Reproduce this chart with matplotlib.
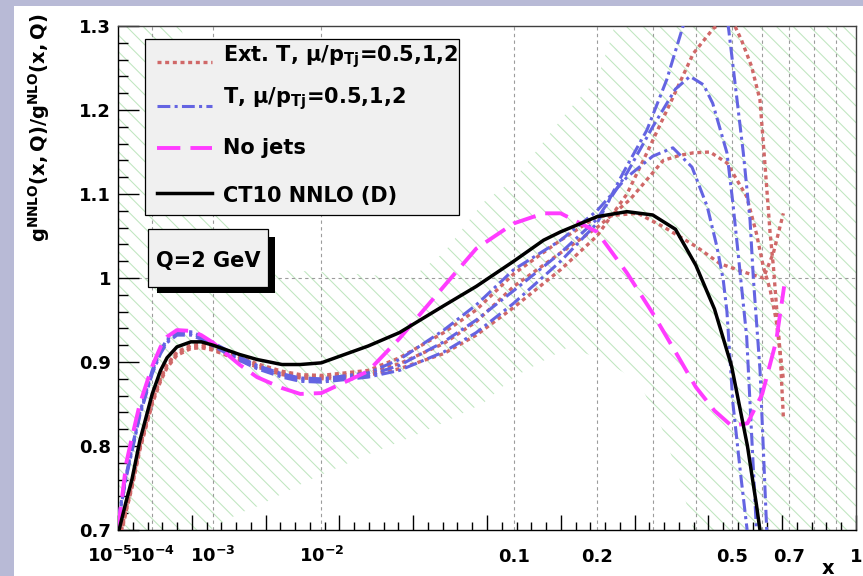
import numpy as np
import matplotlib
matplotlib.use("Agg")
import matplotlib.pyplot as plt
from matplotlib.patches import Rectangle
from matplotlib.lines import Line2D
from matplotlib.transforms import blended_transform_factory, offset_copy

plt.rcParams["font.family"] = ["DejaVu Sans"]
plt.rcParams["font.weight"] = "bold"
plt.rcParams["mathtext.fontset"] = "dejavusans"
plt.rcParams["hatch.linewidth"] = 0.75

# ---------------------------------------------------------------- data
X_LOW = [1e-5, 2e-5, 3e-5, 5e-5, 1e-4, 1.5e-4, 2e-4, 3e-4, 5e-4, 7e-4, 1e-3,
         2e-3, 3e-3, 5e-3, 7e-3, 1e-2, 2e-2, 3e-2, 5e-2, 7e-2, 0.1]

# CT10 NNLO (D)
CT10_X = X_LOW + [0.13, 0.15, 0.2, 0.25, 0.3, 0.35, 0.4, 0.45, 0.5, 0.55, 0.58, 0.6]
CT10_Y = [0.695, 0.735, 0.76, 0.806, 0.862, 0.89, 0.905, 0.918, 0.924, 0.924, 0.92,
          0.909, 0.903, 0.897, 0.897, 0.899, 0.919, 0.935, 0.967, 0.99, 1.02,
          1.045, 1.055, 1.073, 1.079, 1.075, 1.058, 1.015, 0.963, 0.895, 0.80, 0.73, 0.68]

# No jets
NOJET_X = X_LOW + [0.13, 0.15, 0.2, 0.25, 0.3, 0.35, 0.4, 0.45, 0.5, 0.55, 0.6, 0.65, 0.68]
NOJET_Y = [0.70, 0.78, 0.81, 0.85, 0.895, 0.918, 0.93, 0.938, 0.937, 0.932, 0.923,
           0.897, 0.882, 0.869, 0.862, 0.863, 0.889, 0.928, 0.99, 1.035, 1.065,
           1.077, 1.077, 1.055, 1.006, 0.958, 0.912, 0.87, 0.842, 0.824, 0.827,
           0.862, 0.925, 0.99]

# T, mu/pTj = 0.5, 1, 2
T_A_X = X_LOW + [0.15, 0.2, 0.243, 0.288, 0.33, 0.368, 0.4, 0.43, 0.46, 0.49,
                 0.5366, 0.5585, 0.5695, 0.5923, 0.6157]
T_A_Y = [0.708, 0.763, 0.793, 0.836, 0.886, 0.91, 0.923, 0.932, 0.932, 0.927, 0.919,
         0.902, 0.892, 0.882, 0.877, 0.876, 0.882, 0.89, 0.912, 0.935, 0.97,
         1.02, 1.065, 1.125, 1.176, 1.236, 1.30, 1.34, 1.36, 1.35, 1.30,
         1.149, 1.069, 1.0, 0.89, 0.70]
T_B_X = X_LOW + [0.15, 0.2, 0.25, 0.3, 0.35, 0.385, 0.42, 0.445, 0.486, 0.504,
                 0.52, 0.5475, 0.58]
T_B_Y = [0.71, 0.765, 0.795, 0.838, 0.888, 0.912, 0.925, 0.934, 0.934, 0.929, 0.921,
         0.904, 0.894, 0.884, 0.879, 0.878, 0.884, 0.896, 0.924, 0.95, 0.985,
         1.03, 1.07, 1.125, 1.18, 1.225, 1.24, 1.23, 1.208, 1.149, 1.089,
         1.03, 0.93, 0.70]
T_C_X = X_LOW + [0.15, 0.2, 0.25, 0.3, 0.344, 0.39, 0.43, 0.457, 0.475, 0.486,
                 0.504, 0.527, 0.549]
T_C_Y = [0.712, 0.767, 0.797, 0.84, 0.89, 0.914, 0.927, 0.936, 0.936, 0.931, 0.923,
         0.906, 0.896, 0.886, 0.881, 0.88, 0.887, 0.903, 0.938, 0.968, 1.01,
         1.045, 1.08, 1.12, 1.145, 1.155, 1.132, 1.085, 1.037, 0.998, 0.96,
         0.851, 0.77, 0.70]

# Ext. T, mu/pTj = 0.5, 1, 2
EXT_A_X = X_LOW + [0.15, 0.2, 0.25, 0.288, 0.345, 0.393, 0.4466, 0.475, 0.49, 0.504,
                   0.531, 0.5635, 0.592, 0.61, 0.628, 0.64, 0.665, 0.677]
EXT_A_Y = [0.678, 0.723, 0.75, 0.795, 0.85, 0.877, 0.893, 0.908, 0.916, 0.917, 0.914,
           0.902, 0.894, 0.885, 0.881, 0.88, 0.884, 0.892, 0.91, 0.932, 0.965,
           1.01, 1.05, 1.1, 1.149, 1.216, 1.267, 1.297, 1.305, 1.31, 1.305,
           1.283, 1.252, 1.212, 1.133, 1.053, 1.013, 0.91, 0.835]
EXT_B_X = X_LOW + [0.15, 0.2, 0.255, 0.3225, 0.36, 0.393, 0.4375, 0.486, 0.5475,
                   0.58, 0.604, 0.628, 0.65, 0.677]
EXT_B_Y = [0.68, 0.725, 0.752, 0.797, 0.852, 0.879, 0.895, 0.91, 0.918, 0.919, 0.916,
           0.904, 0.896, 0.887, 0.883, 0.882, 0.887, 0.898, 0.922, 0.948, 0.99,
           1.03, 1.06, 1.093, 1.14, 1.146, 1.149, 1.15, 1.137, 1.097,
           1.053, 1.013, 0.986, 0.95, 0.88]
EXT_C_X = X_LOW + [0.15, 0.2, 0.27, 0.3225, 0.402, 0.466, 0.5475, 0.604, 0.64, 0.677]
EXT_C_Y = [0.682, 0.727, 0.754, 0.799, 0.854, 0.881, 0.897, 0.912, 0.92, 0.921, 0.918,
           0.906, 0.898, 0.889, 0.885, 0.884, 0.89, 0.905, 0.935, 0.962, 1.005,
           1.045, 1.073, 1.077, 1.061, 1.037, 1.017, 1.006, 1.0, 1.03, 1.077]

# CT10 NNLO uncertainty band (hatched)
BAND_X = [1e-5, 3e-5, 1e-4, 2e-4, 3.5e-4, 5e-4, 9e-4, 2e-3, 3e-3, 8.3e-3, 2e-2,
          3.4e-2, 5e-2, 7.5e-2, 0.1, 0.16, 0.2, 0.22, 0.25, 0.28, 0.32, 0.36,
          0.4, 0.5, 1.0]
BAND_LO = [0.5, 0.5, 0.55, 0.6, 0.64, 0.67, 0.70, 0.72, 0.728, 0.76, 0.79,
           0.81, 0.828, 0.851, 0.882, 0.918, 0.905, 0.898, 0.885, 0.867, 0.82,
           0.76, 0.69, 0.5, 0.5]
BAND_HI = [1.6, 1.55, 1.45, 1.37, 1.30, 1.24, 1.14, 1.04, 1.01, 1.008, 1.004,
           0.999, 1.03, 1.09, 1.117, 1.2, 1.236, 1.28, 1.35, 1.45, 1.6,
           1.6, 1.6, 1.6, 1.6]

GRID_X = [1e-4, 1e-3, 1e-2, 0.1, 0.2, 0.3, 0.4, 0.5, 0.6, 0.7, 0.8, 0.9]
XLABEL_POS = [1e-5, 1e-4, 1e-3, 1e-2, 0.1, 0.2, 0.5, 0.7, 1.0]
XLABEL_TXT = [r"$\mathbf{10^{-5}}$", r"$\mathbf{10^{-4}}$", r"$\mathbf{10^{-3}}$",
              r"$\mathbf{10^{-2}}$", "0.1", "0.2", "0.5", "0.7", "1"]
Y_MAJOR = [0.7, 0.8, 0.9, 1.0, 1.1, 1.2, 1.3]
Y_LABELS = ["0.7", "0.8", "0.9", "1", "1.1", "1.2", "1.3"]

LEGEND_LABELS = ["Ext. T, \u03bc/p$_{\\mathbf{Tj}}$=0.5,1,2",
                 "T, \u03bc/p$_{\\mathbf{Tj}}$=0.5,1,2",
                 "No jets",
                 "CT10 NNLO (D)"]

# ---------------------------------------------------------------- styles
RED = "#d06868"
BLUE = "#6464e2"
MAGENTA = "#ff3cff"
GREEN = "#bfe6bf"
STYLE_EXT = dict(color=RED, lw=2.4, ls=(0, (1.2, 1.1)), dash_capstyle="butt", zorder=3)
STYLE_T = dict(color=BLUE, lw=2.2, ls=(0, (4.2, 1.4, 1.0, 1.4)), dash_capstyle="butt", zorder=3.1)
STYLE_NJ = dict(color=MAGENTA, lw=2.8, ls=(0, (6.0, 2.6)), dash_capstyle="butt", zorder=3.2)
STYLE_CT = dict(color="black", lw=2.5, ls="-", zorder=3.3)

W, H = 863, 576
fig = plt.figure(figsize=(W / 100, H / 100), dpi=100)
fig.patch.set_facecolor("#b8bad6")
fig.add_artist(Rectangle((14 / W, 0), 1 - 14 / W, 1 - 6 / H, transform=fig.transFigure,
                         facecolor="white", edgecolor="none", zorder=0))


def fpx(x, y):
    """Figure fraction from pixel position (origin top-left)."""
    return x / W, 1 - y / H


ax = fig.add_axes([118 / W, 46 / H, 738 / W, 504 / H])
ax.set_facecolor("white")

fwd = lambda x: np.power(np.clip(x, 0, None), 0.25)
inv = lambda u: np.power(np.clip(u, 0, None), 4)
ax.set_xscale("function", functions=(fwd, inv))
ax.set_xlim(1e-5, 1.0)
ax.set_ylim(0.7, 1.3)

# uncertainty band
ax.fill_between(BAND_X, BAND_LO, BAND_HI, facecolor="none", edgecolor=GREEN,
                hatch="\\\\", linewidth=0, zorder=1)

# grid
for gx in GRID_X:
    ax.axvline(gx, color="#9c9c9c", lw=0.8, ls=(0, (3, 3)), zorder=1.5)
ax.axhline(1.0, color="#9c9c9c", lw=0.8, ls=(0, (3, 3)), zorder=1.5)

# curves
for cx, cy in [(EXT_A_X, EXT_A_Y), (EXT_B_X, EXT_B_Y), (EXT_C_X, EXT_C_Y)]:
    ax.plot(cx, cy, **STYLE_EXT)
for cx, cy in [(T_A_X, T_A_Y), (T_B_X, T_B_Y), (T_C_X, T_C_Y)]:
    ax.plot(cx, cy, **STYLE_T)
ax.plot(NOJET_X, NOJET_Y, **STYLE_NJ)
ax.plot(CT10_X, CT10_Y, **STYLE_CT)

# axis ticks: evenly divided along the transformed axis
u0 = fwd(1e-5)
u_div = np.linspace(u0, 1.0, 51)
ax.set_xticks(inv(u_div[::5]))
ax.set_xticks(inv(u_div), minor=True)
ax.tick_params(axis="x", which="both", direction="in", bottom=True, top=False,
               labelbottom=False, width=1, color="black")
ax.tick_params(axis="x", which="major", length=10.8)
ax.tick_params(axis="x", which="minor", length=5.8)

ax.set_yticks(Y_MAJOR)
ax.set_yticklabels(Y_LABELS)
ax.set_yticks(np.arange(0.7, 1.3001, 0.02), minor=True)
ax.tick_params(axis="y", which="both", direction="in", left=True, right=False,
               width=1, color="black")
ax.tick_params(axis="y", which="major", length=15, labelsize=13, pad=5)
ax.tick_params(axis="y", which="minor", length=7.2)
for lab in ax.get_yticklabels():
    lab.set_fontweight("bold")

for side in ["left", "bottom", "top", "right"]:
    ax.spines[side].set_linewidth(1.0)
    ax.spines[side].set_color("black")
ax.spines["top"].set_color("#404040")
ax.spines["right"].set_color("#404040")

# x labels along the bottom
xlab_tr = blended_transform_factory(ax.transData, fig.transFigure)
for xv, txt in zip(XLABEL_POS, XLABEL_TXT):
    tr = offset_copy(xlab_tr, fig=fig, x=-8 if xv == 1e-5 else 0, units="dots")
    ax.text(xv, 1 - 562 / H, txt, transform=tr, ha="center", va="baseline",
            fontsize=13, fontweight="bold", clip_on=False)
fig.text(*fpx(828, 568), "x", ha="center", va="center", fontsize=14, fontweight="bold")

fig.text(*fpx(39, 13), r"$\mathbf{g^{NNLO}(x,Q)/g^{NLO}(x,Q)}$", rotation=90,
         ha="center", va="top", fontsize=14)

# legend
fig.add_artist(Rectangle(fpx(145, 215), 314 / W, 176 / H, transform=fig.transFigure,
                         facecolor="#f0f0f0", edgecolor="black", lw=0.9, zorder=5))
handle_styles = [STYLE_EXT, STYLE_T, STYLE_NJ, STYLE_CT]
handle_y = [62, 106, 148, 193]
text_base = [61, 103, 154, 202]
for st, hy, ty, lab in zip(handle_styles, handle_y, text_base, LEGEND_LABELS):
    kw = dict(st)
    kw["zorder"] = 6
    x0, y0 = fpx(157, hy)
    x1, _ = fpx(212, hy)
    fig.add_artist(Line2D([x0, x1], [y0, y0], transform=fig.transFigure, **kw))
    fig.text(*fpx(223, ty), lab, ha="left", va="baseline", fontsize=15,
             fontweight="bold", zorder=6)

# Q label box with shadow
fig.add_artist(Rectangle(fpx(157, 293), 118 / W, 56 / H, transform=fig.transFigure,
                         facecolor="black", edgecolor="none", zorder=5))
fig.add_artist(Rectangle(fpx(148, 287), 120 / W, 58 / H, transform=fig.transFigure,
                         facecolor="#f0f0f0", edgecolor="black", lw=0.9, zorder=5.5))
fig.text(*fpx(208, 267), "Q=2 GeV", ha="center", va="baseline", fontsize=15,
         fontweight="bold", zorder=6)

fig.savefig("out.png", dpi=100, facecolor=fig.get_facecolor())
